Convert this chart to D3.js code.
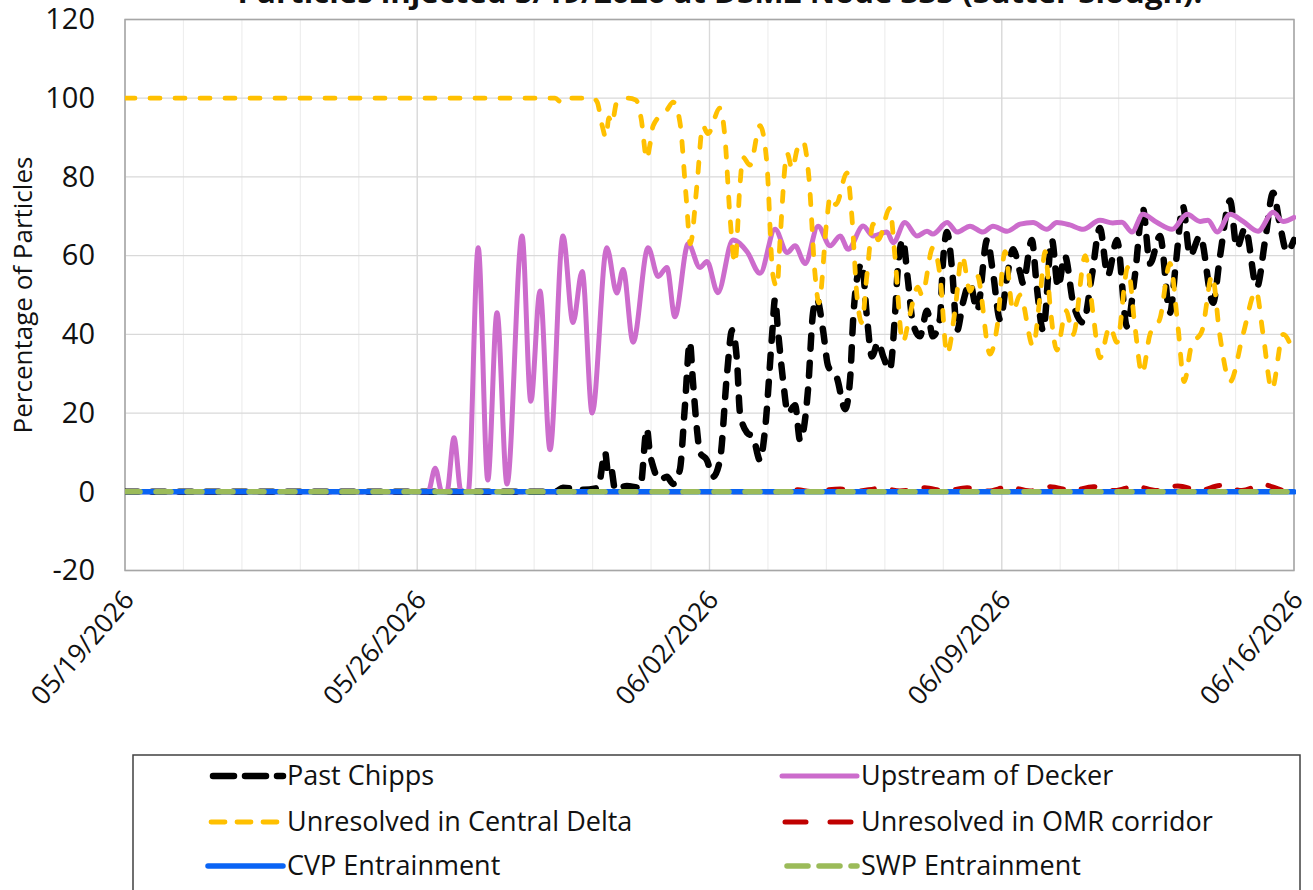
<!DOCTYPE html>
<html>
<head>
<meta charset="utf-8">
<script src="https://cdn.jsdelivr.net/npm/d3@7"></script>
<style>
  html, body { margin: 0; padding: 0; background: #fff; }
  svg { display: block; }
  text { font-family: "Open Sans", sans-serif; fill: #111; }
</style>
</head>
<body>
<svg id="chart" width="1313" height="890"></svg>
<script>
// ---------------- DATA ----------------
const titleText = "Particles injected 5/19/2026 at DSM2 Node 335 (Sutter Slough).";
const yAxisTitle = "Percentage of Particles";
const startDate = "05/19/2026";
const endDate = "06/16/2026";
const xTickLabels = ["05/19/2026", "05/26/2026", "06/02/2026", "06/09/2026", "06/16/2026"];
const yTicks = [-20, 0, 20, 40, 60, 80, 100, 120];
const seriesNames = ["Past Chipps", "Upstream of Decker", "Unresolved in Central Delta",
                     "Unresolved in OMR corridor", "CVP Entrainment", "SWP Entrainment"];

// [days since 05/19/2026, percentage]
const pastChipps = [
  [0,0],[10.3,0],[10.49,1],[10.97,0.5],[11.33,1],[11.5,10],[11.57,5],[11.64,6],[11.74,0.5],
  [12.02,1.5],[12.34,1],[12.5,16],[12.57,10],[12.65,6.4],[12.81,3],[12.98,3.8],[13.13,2],
  [13.29,5.6],[13.41,21.6],[13.53,38],[13.6,28.5],[13.7,15.8],[13.77,10],[13.94,8],[14.08,3.8],
  [14.25,8],[14.42,30],[14.54,41],[14.66,33],[14.73,20],[14.9,15],[15.04,14],[15.21,8],
  [15.33,15.8],[15.5,40],[15.57,49],[15.64,41],[15.76,28.5],[15.88,20],[16.05,22],[16.17,13],
  [16.36,26],[16.48,45.5],[16.57,49],[16.72,41],[16.84,32],[17.05,29],[17.25,21],[17.37,29],
  [17.44,43.7],[17.56,55.7],[17.65,58],[17.77,44.5],[17.89,34.4],[18.04,38],[18.16,34.4],
  [18.32,31],[18.44,44.5],[18.51,56.5],[18.63,64],[18.75,54],[18.87,43],[19.04,39.5],
  [19.21,46],[19.35,39.5],[19.52,44],[19.59,58],[19.69,66],[19.81,56.5],[19.93,41],[20.07,48],
  [20.24,53],[20.41,46],[20.65,64],[20.79,55.7],[20.96,43.7],[21.13,54.7],[21.27,61.6],
  [21.44,55.7],[21.51,53],[21.72,64],[21.84,52],[21.99,41],[22.2,64],[22.35,52],[22.51,60],
  [22.71,48],[22.95,43],[23.16,55],[23.35,67],[23.54,55],[23.76,64],[24.0,42],[24.19,55],
  [24.38,72],[24.55,58],[24.79,65],[25.03,45.5],[25.17,58],[25.34,72.5],[25.51,60],[25.75,65],
  [26.06,48],[26.23,60],[26.47,74],[26.63,62],[26.83,67],[27.11,52],[27.31,64],[27.5,76],
  [27.66,68],[27.83,61],[28,64]
];
const upstreamDecker = [
  [0,0],[7.26,0],[7.43,6],[7.59,0],[7.71,0],[7.88,13.7],[8.05,0],[8.22,0],[8.46,62],[8.69,3],
  [8.91,45.5],[9.15,2],[9.51,65],[9.72,23],[9.94,51],[10.18,10.7],[10.49,65],[10.73,43],
  [10.95,56],[11.19,20],[11.54,62],[11.78,50.5],[11.93,56.5],[12.17,38],[12.53,62],[12.77,54.7],
  [12.98,57],[13.17,44.5],[13.49,63],[13.77,57],[13.94,58.5],[14.2,50.6],[14.56,64],[14.9,61],
  [15.21,55.5],[15.57,66.7],[15.86,60.8],[16.05,62.5],[16.29,58],[16.6,67.5],[16.89,62.5],
  [17.13,65],[17.32,61.6],[17.68,67.5],[17.92,65],[18.25,66],[18.4,63.3],[18.68,68.4],
  [18.97,65],[19.21,66.2],[19.35,65.5],[19.69,68.4],[19.93,66],[20.24,67.5],[20.55,66],
  [20.79,67.5],[21.13,66.2],[21.44,68],[21.75,68.4],[22.08,66.7],[22.32,68.4],[22.63,67.8],
  [22.95,66.7],[23.35,69],[23.66,68.3],[23.88,68.5],[24.12,66],[24.38,70.5],[24.72,68.4],
  [25.08,66.7],[25.44,70.5],[25.75,68.7],[25.94,69],[26.16,66],[26.47,70.5],[26.78,68.7],
  [27.14,66.2],[27.5,71],[27.74,68.7],[28,69.7]
];
const centralDelta = [
  [0,100],[10.3,100],[10.47,98.8],[10.63,100],[11.21,100],[11.31,99],[11.43,93],[11.52,90],
  [11.59,95],[11.66,93.5],[11.78,99],[12.05,100],[12.24,99.5],[12.36,95],[12.5,84.5],[12.57,88],
  [12.65,93],[12.98,97],[13.13,99],[13.29,94],[13.44,75],[13.54,63],[13.7,78],[13.84,93],
  [13.96,91],[14.25,97.5],[14.37,90],[14.49,70],[14.61,58],[14.73,78],[14.8,85],[14.97,83],
  [15.21,93],[15.37,84],[15.52,55],[15.62,52],[15.69,64],[15.86,86],[15.98,82],[16.1,87],
  [16.24,89],[16.38,80],[16.53,55],[16.62,48],[16.81,69],[16.89,75],[17.03,73],[17.29,81],
  [17.41,70],[17.53,50],[17.65,43],[17.77,55],[17.92,68],[18.04,64],[18.32,72],[18.44,60],
  [18.63,38],[18.8,45],[18.99,52],[19.09,50],[19.35,62],[19.52,55],[19.69,35],[19.88,46],
  [20.05,60],[20.24,51],[20.41,55],[20.72,35],[20.89,42],[21.08,61],[21.27,46],[21.44,50],
  [21.75,37],[21.92,50],[22.04,61],[22.16,47],[22.32,36],[22.54,46],[22.71,40],[23.0,60],
  [23.19,45],[23.35,34],[23.59,42],[23.76,38],[24.02,57],[24.19,42],[24.36,30],[24.55,40],
  [24.79,44],[25.03,58],[25.22,42],[25.37,28],[25.54,37],[25.8,41],[26.04,55],[26.22,40],
  [26.47,28],[26.78,40],[27.09,51],[27.26,40],[27.47,26],[27.74,40],[28,35]
];
const omrCorridor = [
  [0,0],[15.45,0],[15.7,0],[16.12,0.5],[16.41,0.1],[17.13,0.7],[17.49,0.1],[18.13,0.9],
  [18.56,0.2],[19.16,1.0],[19.64,0.2],[20.17,1.0],[20.67,0.2],[21.15,1.2],[21.68,0.2],
  [22.16,1.3],[22.68,0.3],[23.19,1.3],[23.71,0.3],[24.19,1.4],[24.72,0.3],[25.22,1.5],
  [25.75,0.3],[26.23,1.6],[26.75,0.3],[27.26,1.8],[27.78,0.4],[28,0.4]
];
const cvpEntrainment = [[0,0],[28,0]];
const swpEntrainment = [[0,0],[28,0]];

// ---------------- CHART ----------------
const svg = d3.select("#chart");
const parse = d3.timeParse("%m/%d/%Y");
const t0 = parse(startDate);
const dayToDate = d => new Date(t0.getTime() + d * 86400000);

const L = 125, R = 1294, T = 19.5, B = 570.5;
const x = d3.scaleTime().domain([t0, parse(endDate)]).range([L, R]);
const y = d3.scaleLinear().domain([-20, 120]).range([B, T]);

// minor vertical gridlines (every 1.4 days)
const minorDays = d3.range(0, 28.001, 1.4);
svg.append("g").selectAll("line").data(minorDays).join("line")
  .attr("x1", d => x(dayToDate(d))).attr("x2", d => x(dayToDate(d)))
  .attr("y1", T).attr("y2", B)
  .attr("stroke", "#eeeeee").attr("stroke-width", 1.2);
// major vertical gridlines
svg.append("g").selectAll("line").data(xTickLabels).join("line")
  .attr("x1", d => x(parse(d))).attr("x2", d => x(parse(d)))
  .attr("y1", T).attr("y2", B)
  .attr("stroke", "#d9d9d9").attr("stroke-width", 1.3);
// horizontal gridlines
svg.append("g").selectAll("line").data(yTicks).join("line")
  .attr("x1", L).attr("x2", R)
  .attr("y1", d => y(d)).attr("y2", d => y(d))
  .attr("stroke", "#d9d9d9").attr("stroke-width", 1.3);

// plot border
svg.append("rect").attr("x", L).attr("y", T).attr("width", R - L).attr("height", B - T)
  .attr("fill", "none").attr("stroke", "#a6a6a6").attr("stroke-width", 1.5);

// y axis labels
const yAxis = d3.axisLeft(y).tickValues(yTicks).tickSize(0).tickPadding(30)
  .tickFormat(d => String(d));
const gy = svg.append("g").attr("transform", `translate(${L},0)`).call(yAxis);
gy.select(".domain").remove();
gy.selectAll("text").attr("font-size", 29).attr("fill", "#111")
  .style("font-family", '"Open Sans", sans-serif');

// x axis labels (rotated)
const xAxis = d3.axisBottom(x).tickValues(xTickLabels.map(parse)).tickSize(0)
  .tickFormat(d3.timeFormat("%m/%d/%Y"));
const gx = svg.append("g").attr("transform", `translate(0,${B})`).call(xAxis);
gx.select(".domain").remove();
gx.selectAll("text")
  .attr("font-size", 26.5).attr("fill", "#111")
  .style("font-family", '"Open Sans", sans-serif')
  .attr("text-anchor", "end").attr("y", 0).attr("dy", "0.35em")
  .attr("transform", "translate(3,24) rotate(-49)");

// y axis title
svg.append("text").attr("transform", `translate(32,295) rotate(-90)`)
  .attr("text-anchor", "middle").attr("font-size", 26).text(yAxisTitle);

// title (cut off at top)
svg.append("text").attr("x", 720).attr("y", 3)
  .attr("text-anchor", "middle").attr("font-size", 29).attr("font-weight", "bold")
  .attr("textLength", 965).attr("lengthAdjust", "spacingAndGlyphs")
  .text(titleText);

// series
const line = d3.line().x(d => x(dayToDate(d[0]))).y(d => y(d[1])).curve(d3.curveMonotoneX);
const styles = [
  { data: pastChipps,     color: "#000000", w: 6.5, dash: "13,14", legDash: "21,11", legLen: 70 },
  { data: upstreamDecker, color: "#cc6ccc", w: 5,   dash: null,    legDash: null,    legLen: 75 },
  { data: centralDelta,   color: "#ffc000", w: 4.8, dash: "10,15", legDash: "14,12", legLen: 72 },
  { data: omrCorridor,    color: "#c00000", w: 5,   dash: "14,18", legDash: "21,24", legLen: 72 },
  { data: cvpEntrainment, color: "#0a64f5", w: 5.5, dash: null,    legDash: null,    legLen: 75 },
  { data: swpEntrainment, color: "#9bbb59", w: 5.5, dash: "15,16", legDash: "21,11", legLen: 70 }
];
svg.append("clipPath").attr("id", "plotclip").append("rect")
  .attr("x", L).attr("y", T - 5).attr("width", R - L + 2).attr("height", B - T + 5);
const gl = svg.append("g").attr("clip-path", "url(#plotclip)");
styles.forEach(s => {
  gl.append("path").datum(s.data).attr("d", line)
    .attr("fill", "none").attr("stroke", s.color).attr("stroke-width", s.w)
    .attr("stroke-linecap", "round").attr("stroke-linejoin", "round")
    .attr("stroke-dasharray", s.dash);
});

// legend
svg.append("rect").attr("x", 133).attr("y", 755).attr("width", 1167).attr("height", 200)
  .attr("fill", "#fff").attr("stroke", "#404040").attr("stroke-width", 1.5);
const legCols = [208, 782];
const legRows = [776, 822, 866];
styles.forEach((s, i) => {
  const cx = legCols[i % 2], cy = legRows[Math.floor(i / 2)];
  svg.append("line").attr("x1", cx + 75 - s.legLen).attr("x2", cx + 75).attr("y1", cy).attr("y2", cy)
    .attr("stroke", s.color).attr("stroke-width", s.w).attr("stroke-linecap", "round")
    .attr("stroke-dasharray", s.legDash);
  svg.append("text").attr("x", cx + 79).attr("y", cy).attr("dy", "0.35em")
    .attr("font-size", 27).text(seriesNames[i]);
});
</script>
</body>
</html>
